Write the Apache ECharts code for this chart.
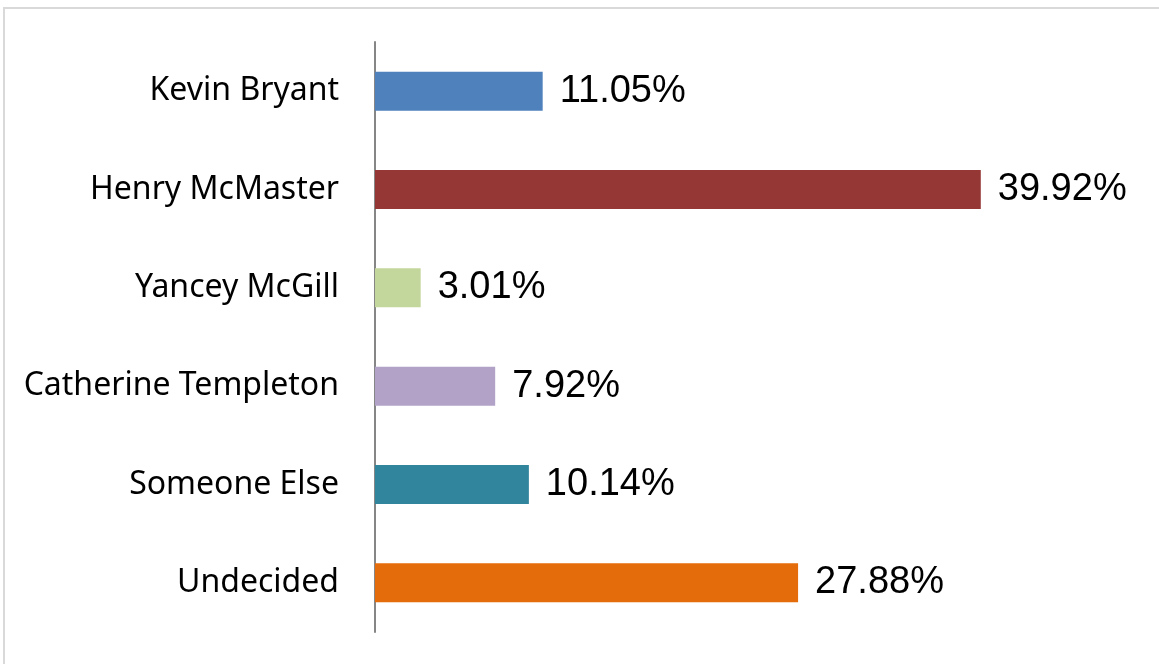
<!DOCTYPE html>
<html>
<head>
<meta charset="utf-8">
<script src="https://cdn.jsdelivr.net/npm/echarts@6/dist/echarts.min.js"></script>
<style>
  html, body { margin: 0; padding: 0; background: #fff; }
  #main { width: 1159px; height: 664px; }
</style>
</head>
<body>
<div id="main"></div>
<script>
var categories = ['Kevin Bryant', 'Henry McMaster', 'Yancey McGill', 'Catherine Templeton', 'Someone Else', 'Undecided']
var values = [11.05, 39.92, 3.01, 7.92, 10.14, 27.88]
var barColors = ['#4f81bd', '#953735', '#c3d69b', '#b3a2c7', '#31859c', '#e46c0a']

var chart = echarts.init(document.getElementById('main'))

var option = {
  animation: false,
  backgroundColor: '#fff',
  graphic: [
    {
      // chart frame, runs off the right and bottom edges
      type: 'rect',
      shape: { x: 4, y: 8, width: 1200, height: 700 },
      style: { fill: 'none', stroke: '#d9d9d9', lineWidth: 2 }
    }
  ],
  grid: {
    left: 375,
    top: 42,
    width: 607,
    height: 590
  },
  xAxis: {
    type: 'value',
    min: 0,
    max: 40,
    show: false
  },
  yAxis: {
    type: 'category',
    data: categories,
    inverse: true,
    axisLine: {
      show: true,
      lineStyle: { color: '#868686', width: 2 }
    },
    axisTick: { show: false },
    axisLabel: {
      margin: 36,
      fontFamily: 'Noto Sans',
      fontSize: 32,
      color: '#000',
      padding: [6, 0, 0, 0]
    }
  },
  series: [
    {
      type: 'bar',
      barWidth: 39,
      data: values.map(function (v, i) {
        return { value: v, itemStyle: { color: barColors[i] } }
      }),
      label: {
        show: true,
        position: 'right',
        distance: 17,
        fontFamily: 'Liberation Sans',
        fontSize: 38,
        color: '#000',
        padding: [5, 0, 0, 0],
        formatter: function (p) {
          return p.value.toFixed(2) + '%'
        }
      }
    }
  ]
}

chart.setOption(option)
</script>
</body>
</html>
